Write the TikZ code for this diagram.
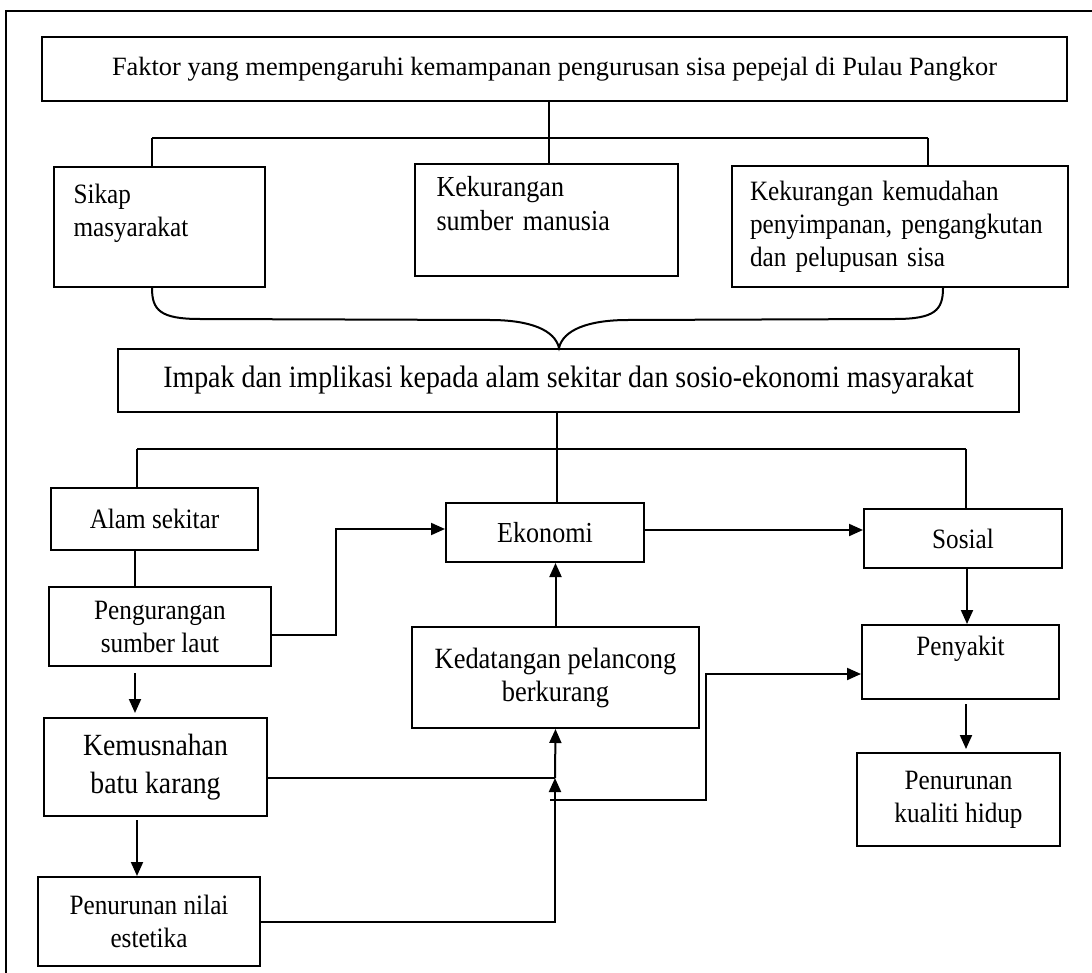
\documentclass[tikz,border=0pt]{standalone}
\usepackage{fontspec}
\setmainfont{Liberation Serif}
\newfontfamily\etroit[FakeStretch=0.9]{Liberation Serif}
\usetikzlibrary{arrows.meta}

\begin{document}
\begin{tikzpicture}[line width=1pt, >={Triangle[length=7pt,width=6pt]},
	boite/.style={rectangle, draw, inner sep=0pt, font=\etroit\fontsize{14}{16.5}\selectfont}]
	\begin{scope}[x=0.5pt,y=-0.5pt]
	\useasboundingbox (0,0) rectangle (1092,973);
	% cadre
	\draw[line width=1.3pt] (1092,11) -- (6,11) -- (6,973);
	% description et nommage des noeuds
	\node (F) at (554.5,69) [boite, minimum width=512.5pt, minimum height=32pt, font=\fontsize{13.2}{16}\selectfont] {Faktor yang mempengaruhi kemampanan pengurusan sisa pepejal di Pulau Pangkor};
	\node (S) at (159.5,227) [boite, minimum width=105.5pt, minimum height=60pt, text width=86pt, align=left] {Sikap\\masyarakat\\\mbox{}};
	\node (K) at (546.5,220) [boite, minimum width=131.5pt, minimum height=56pt, text width=110pt, align=left, font=\etroit\fontsize{14.5}{17}\selectfont] {Kekurangan\\sumber manusia\\\mbox{}};
	\node (P) at (900,226.5) [boite, minimum width=168pt, minimum height=60.5pt, text width=150pt, align=left] {Kekurangan kemudahan\\penyimpanan, pengangkutan\\dan pelupusan sisa};
	\node (I) at (568.5,380.5) [boite, minimum width=450.5pt, minimum height=31.5pt, font=\etroit\fontsize{15.5}{18}\selectfont] {Impak dan implikasi kepada alam sekitar dan sosio-ekonomi masyarakat};
	\node (A) at (154.5,519) [boite, minimum width=103.5pt, minimum height=31pt] {Alam sekitar};
	\node (E) at (545,532.5) [boite, minimum width=99pt, minimum height=29.5pt, font=\etroit\fontsize{14.5}{17}\selectfont] {Ekonomi};
	\node (So) at (963,538.5) [boite, minimum width=99pt, minimum height=29.5pt] {Sosial};
	\node (Pe) at (160,626.5) [boite, minimum width=111pt, minimum height=39.5pt, align=center] {Pengurangan\\sumber laut};
	\node (Kd) at (555.5,677.5) [boite, minimum width=143.5pt, minimum height=50.5pt, align=center, font=\etroit\fontsize{14.7}{16.5}\selectfont] {Kedatangan pelancong\\berkurang};
	\node (Py) at (960.5,662) [boite, minimum width=98.5pt, minimum height=37pt, align=center] {Penyakit\\\mbox{}};
	\node (Km) at (155.5,767) [boite, minimum width=111.5pt, minimum height=49pt, align=center, font=\etroit\fontsize{15.4}{19}\selectfont] {Kemusnahan\\batu karang};
	\node (N) at (149,921.5) [boite, minimum width=111pt, minimum height=44.5pt, align=center] {Penurunan nilai\\estetika};
	\node (Q) at (958.5,799.5) [boite, minimum width=101.5pt, minimum height=46.5pt, align=center] {Penurunan\\kualiti hidup};
	\coordinate (b1) at (152,138);
	\coordinate (b2) at (549,138);
	\coordinate (b3) at (928,138);
	\coordinate (c1) at (137,449);
	\coordinate (c2) at (557,449);
	\coordinate (c3) at (966,449);
	\coordinate (j1) at (555,778);
	\coordinate (j2) at (550,800);
	% faktor
	\draw (F.south -| b2) -- (b2);
	\draw (b1) -- (b3);
	\draw (b1) -- (b1 |- S.north);
	\draw (b2) -- (b2 |- K.north);
	\draw (b3) -- (b3 |- P.north);
	% accolade
	\draw (S.south -| 152,0) .. controls +(0,22) and +(-40,0) .. (200,319) -- (490,320)
		.. controls +(40,0) and +(-4,-18) .. (I.north -| 559,0)
		.. controls +(4,-18) and +(-40,0) .. (628,320) -- (895,319)
		.. controls +(40,0) and +(0,22) .. (P.south -| 943,0);
	% impak
	\draw (I.south -| c2) -- (E.north -| c2);
	\draw (c1) -- (c3);
	\draw (c1) -- (c1 |- A.north);
	\draw (c3) -- (c3 |- So.north);
	\draw (A.south -| 135,0) -- (Pe.north -| 135,0);
	\draw[->] (Pe.east |- 0,635) -- (336,635) |- (E.west |- 0,529);
	\draw[->] (E.east |- 0,530) -- (So.west |- 0,530);
	\draw[->] (Kd.north) -- (Kd.north |- E.south);
	\draw[->] (So.south -| 967,0) -- (Py.north -| 967,0);
	\draw[->, shorten <=2pt, shorten >=1.5pt] (Py.south -| 966,0) -- (Q.north -| 966,0);
	\draw[->, shorten <=3pt, shorten >=2pt] (Pe.south -| 135,0) -- (Km.north -| 135,0);
	\draw[->, shorten <=1.5pt] (Km.south -| 137,0) -- (N.north -| 137,0);
	\draw (Km.east |- j1) -- (j1);
	\draw[->] (N.east) -- (N.east -| j1) -- (j1);
	\draw[->] (j1) -- (Kd.south);
	\draw[->] (j2) -| (706,674) -- (Py.west |- 0,674);
	\end{scope}
\end{tikzpicture}
\end{document}
